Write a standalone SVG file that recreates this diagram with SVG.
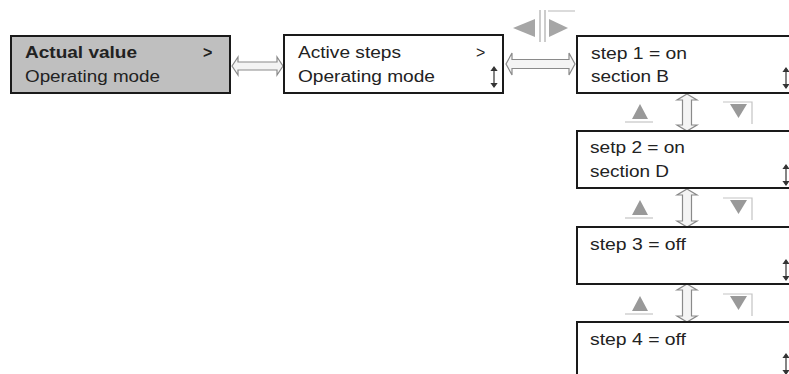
<svg xmlns="http://www.w3.org/2000/svg" xmlns:xlink="http://www.w3.org/1999/xlink" width="789" height="374" viewBox="0 0 789 374">
<style>
.box{fill:#fff;stroke:#1a1a1a;stroke-width:2}
.grey{fill:#bfbfbf}
.t{font-family:"Liberation Sans",Arial,sans-serif;font-size:16px;fill:#222}
.b{font-weight:bold}
.conn{fill:#f4f4f4;stroke:#8a8a8a;stroke-width:1.2}
.tri{fill:#999}
.edge{stroke:#c4c4c4;stroke-width:1.2;fill:none}
.sc{stroke:#333;stroke-width:1.2;fill:#333}
</style>
<defs>
<g id="scroll">
<line x1="0" y1="1" x2="0" y2="19" class="sc"/>
<path d="M-2.5,3.5 L0,0 L2.5,3.5 Z M-2.5,16.5 L0,20 L2.5,16.5 Z" class="sc"/>
</g>
<g id="updown">
<line x1="-15" y1="18" x2="13" y2="18" class="edge"/>
<path d="M0,0 L-8,15 L8,15 Z" class="tri"/>
<path d="M83,-2 L112,-2 L112,20" class="edge"/>
<path d="M90,0 L107,0 L98.5,14 Z" class="tri"/>
</g>
</defs>

<g id="connectors">
<path class="conn" d="M232,66 L238,57 L238,62 L277,62 L277,57 L283,66 L277,75 L277,70 L238,70 L238,75 Z"/>
<path class="conn" d="M506,64 L512,53 L512,59.5 L569,59.5 L569,53 L575,64 L569,75 L569,68.5 L512,68.5 L512,75 Z"/>
<path class="conn" d="M687,94 L697,100 L691.5,100 L691.5,125 L697,125 L687,131 L677,125 L682.5,125 L682.5,100 L677,100 Z"/>
<path class="conn" d="M687,189 L697,195 L691.5,195 L691.5,221 L697,221 L687,227 L677,221 L682.5,221 L682.5,195 L677,195 Z"/>
<path class="conn" d="M687,284 L697,290 L691.5,290 L691.5,316 L697,316 L687,322 L677,316 L682.5,316 L682.5,290 L677,290 Z"/>
</g>

<g id="nav-left-right">
<path d="M513,28 L535,19 L535,37 Z" class="tri" style="fill:#a6a6a6"/>
<line x1="540" y1="10" x2="540" y2="42" class="edge" style="stroke:#aaa"/>
<line x1="545" y1="10" x2="545" y2="42" class="edge" style="stroke:#aaa"/>
<path d="M549,19 L568,28 L549,37 Z" class="tri" style="fill:#a6a6a6"/>
<path d="M548,11 L575,11" class="edge"/>
</g>

<g id="nav-up-down">
<use xlink:href="#updown" x="640" y="104"/>
<use xlink:href="#updown" x="640" y="200"/>
<use xlink:href="#updown" x="640" y="296"/>
</g>

<g id="node-actual-value">
<rect x="11" y="36" width="219" height="57" class="box grey"/>
<text x="25" y="58" class="t b" textLength="112" lengthAdjust="spacingAndGlyphs">Actual value</text>
<text x="203" y="58" class="t b">&gt;</text>
<text x="25" y="82" class="t" textLength="135" lengthAdjust="spacingAndGlyphs">Operating mode</text>
</g>

<g id="node-active-steps">
<rect x="284" y="35" width="219" height="58" class="box"/>
<text x="298" y="58" class="t" textLength="103" lengthAdjust="spacingAndGlyphs">Active steps</text>
<text x="476" y="58" class="t">&gt;</text>
<text x="298" y="82" class="t" textLength="137" lengthAdjust="spacingAndGlyphs">Operating mode</text>
<use xlink:href="#scroll" x="494" y="67"/>
</g>

<g id="node-step1">
<rect x="577" y="36" width="230" height="57" class="box"/>
<text x="591" y="59" class="t" textLength="96" lengthAdjust="spacingAndGlyphs">step 1 = on</text>
<text x="591" y="82" class="t" textLength="78" lengthAdjust="spacingAndGlyphs">section B</text>
<use xlink:href="#scroll" x="786" y="68"/>
</g>

<g id="node-step2">
<rect x="577" y="131" width="230" height="57" class="box"/>
<text x="590" y="153" class="t" textLength="95" lengthAdjust="spacingAndGlyphs">setp 2 = on</text>
<text x="590" y="177" class="t" textLength="79" lengthAdjust="spacingAndGlyphs">section D</text>
<use xlink:href="#scroll" x="786" y="165"/>
</g>

<g id="node-step3">
<rect x="577" y="227" width="230" height="57" class="box"/>
<text x="590" y="250" class="t" textLength="96" lengthAdjust="spacingAndGlyphs">step 3 = off</text>
<use xlink:href="#scroll" x="786" y="260"/>
</g>

<g id="node-step4">
<rect x="577" y="322" width="230" height="57" class="box"/>
<text x="590" y="345" class="t" textLength="96" lengthAdjust="spacingAndGlyphs">step 4 = off</text>
<use xlink:href="#scroll" x="786" y="354"/>
</g>
</svg>
